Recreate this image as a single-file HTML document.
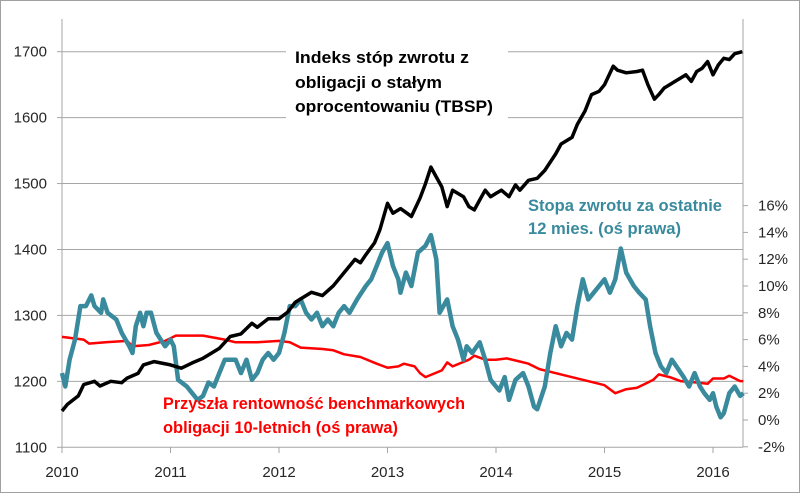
<!DOCTYPE html>
<html><head><meta charset="utf-8"><style>
body{margin:0;background:#fff}
svg{display:block;font-family:"Liberation Sans",sans-serif}
</style></head><body>
<svg id="c" width="800" height="493">
<rect x="0.5" y="0.5" width="799" height="492" fill="#fff" stroke="#a0a0a0"/>
<g id="grid"></g><g id="axes"></g><g id="series"></g>
<rect x="286" y="38" width="222" height="86" fill="#fff"/>
<g font-weight="bold" font-size="16.5" fill="#000">
<text x="295" y="63" textLength="174" lengthAdjust="spacingAndGlyphs">Indeks stóp zwrotu z</text>
<text x="295" y="88" textLength="147" lengthAdjust="spacingAndGlyphs">obligacji o stałym</text>
<text x="295" y="112" textLength="198" lengthAdjust="spacingAndGlyphs">oprocentowaniu (TBSP)</text></g>
<g font-weight="bold" font-size="16.5" fill="#3a8a9e">
<text x="528" y="211" textLength="194" lengthAdjust="spacingAndGlyphs">Stopa zwrotu za ostatnie</text>
<text x="528" y="234" textLength="153" lengthAdjust="spacingAndGlyphs">12 mies. (oś prawa)</text></g>
<g font-weight="bold" font-size="16.5" fill="#ff0000">
<text x="163" y="409" textLength="302" lengthAdjust="spacingAndGlyphs">Przyszła rentowność benchmarkowych</text>
<text x="163" y="433" textLength="235" lengthAdjust="spacingAndGlyphs">obligacji  10-letnich (oś prawa)</text></g>
</svg>
<script>
const leftTicks=[1100,1200,1300,1400,1500,1600,1700];
const rightTicks=[-2,0,2,4,6,8,10,12,14,16];
const yearTicks=[2010,2011,2012,2013,2014,2015,2016];
const tbspT=[2010,2010.05,2010.15,2010.2,2010.3,2010.35,2010.45,2010.55,2010.6,2010.7,2010.75,2010.85,2011,2011.1,2011.2,2011.3,2011.45,2011.55,2011.65,2011.75,2011.8,2011.9,2012,2012.08,2012.15,2012.2,2012.3,2012.4,2012.5,2012.6,2012.7,2012.75,2012.8,2012.88,2012.93,2013,2013.05,2013.12,2013.18,2013.22,2013.3,2013.35,2013.4,2013.45,2013.5,2013.55,2013.6,2013.7,2013.75,2013.8,2013.85,2013.9,2013.95,2014,2014.05,2014.12,2014.18,2014.22,2014.3,2014.38,2014.45,2014.55,2014.6,2014.7,2014.75,2014.82,2014.88,2014.95,2015,2015.08,2015.12,2015.2,2015.3,2015.35,2015.4,2015.46,2015.5,2015.55,2015.6,2015.65,2015.7,2015.75,2015.8,2015.85,2015.9,2015.95,2016,2016.05,2016.1,2016.15,2016.2,2016.27];
const tbspV=[1155,1165,1178,1195,1200,1193,1200,1198,1205,1212,1225,1230,1225,1220,1228,1235,1250,1268,1272,1288,1282,1295,1295,1305,1320,1325,1335,1330,1345,1365,1385,1380,1392,1410,1430,1470,1455,1462,1455,1450,1478,1500,1525,1510,1495,1465,1490,1480,1465,1460,1475,1490,1480,1485,1490,1480,1498,1490,1505,1508,1520,1545,1560,1570,1590,1610,1635,1640,1650,1678,1672,1668,1670,1672,1650,1628,1635,1645,1650,1655,1660,1665,1655,1670,1675,1685,1665,1680,1690,1688,1697,1700];
const retT=[2010,2010.03,2010.07,2010.12,2010.17,2010.22,2010.27,2010.3,2010.36,2010.38,2010.42,2010.5,2010.55,2010.62,2010.65,2010.68,2010.72,2010.75,2010.78,2010.82,2010.87,2010.95,2011,2011.03,2011.07,2011.15,2011.2,2011.25,2011.3,2011.35,2011.4,2011.45,2011.5,2011.6,2011.65,2011.7,2011.75,2011.8,2011.85,2011.9,2011.95,2012,2012.05,2012.1,2012.15,2012.2,2012.25,2012.3,2012.35,2012.4,2012.45,2012.5,2012.55,2012.6,2012.65,2012.72,2012.8,2012.85,2012.9,2012.95,2013,2013.05,2013.1,2013.12,2013.17,2013.22,2013.28,2013.35,2013.4,2013.45,2013.48,2013.55,2013.6,2013.65,2013.7,2013.73,2013.78,2013.85,2013.9,2013.95,2014,2014.03,2014.08,2014.12,2014.18,2014.25,2014.3,2014.35,2014.38,2014.45,2014.5,2014.55,2014.6,2014.65,2014.7,2014.75,2014.8,2014.85,2014.9,2014.95,2015,2015.05,2015.1,2015.15,2015.2,2015.27,2015.32,2015.38,2015.42,2015.47,2015.52,2015.57,2015.62,2015.68,2015.73,2015.78,2015.83,2015.88,2015.92,2015.97,2016,2016.03,2016.07,2016.1,2016.15,2016.2,2016.25,2016.28];
const retV=[3.5,2.5,4.5,6,8.5,8.5,9.3,8.5,8,9,8,7.5,6.5,5.5,5,7,8,7,8,8,6.5,5.5,6,5.5,3,2.5,2,1.5,1.8,2.8,2.5,3.5,4.5,4.5,3.5,4.5,3,3.5,4.5,5,4.5,5,6.5,8.5,8.5,9,8,7.5,8,7,7.5,7,8,8.5,8,9,10,10.5,11.5,12.5,13.2,11.5,10.5,9.5,11,10,12.5,13,13.8,12,8,9,7,6,4.5,5.5,5,5.8,4.5,3,2.5,2.2,3.2,1.5,3,3.5,2.5,1,0.8,2.5,5,7,5.5,6.5,6,8.5,10.5,9,9.5,10,10.5,9.5,10.5,12.8,11,10,9.5,9,7,5,4,3.5,4.5,3.8,3.2,2.5,3.5,2.5,2,1.5,2,1,0.2,0.5,2,2.5,1.8,2];
const yldT=[2010,2010.2,2010.25,2010.4,2010.6,2010.65,2010.8,2010.95,2011.05,2011.3,2011.5,2011.6,2011.8,2012,2012.1,2012.2,2012.4,2012.5,2012.6,2012.75,2012.9,2013,2013.1,2013.15,2013.25,2013.3,2013.35,2013.5,2013.55,2013.6,2013.75,2013.8,2013.9,2014,2014.1,2014.2,2014.3,2014.4,2014.5,2014.65,2014.8,2014.95,2015,2015.05,2015.1,2015.2,2015.3,2015.4,2015.45,2015.5,2015.6,2015.7,2015.85,2015.95,2016,2016.1,2016.15,2016.25,2016.28];
const yldV=[6.2,6,5.7,5.8,5.9,5.5,5.6,5.9,6.3,6.3,6.0,5.8,5.8,5.9,5.8,5.4,5.3,5.2,4.9,4.7,4.2,3.9,4.0,4.2,4.0,3.5,3.2,3.7,4.3,4.0,4.5,4.8,4.5,4.5,4.6,4.4,4.2,3.8,3.6,3.3,3.0,2.7,2.6,2.3,2.0,2.3,2.4,2.8,3.0,3.4,3.2,2.9,2.8,2.7,3.1,3.1,3.3,2.9,2.9];
const X=t=>62+(t-2010)*108.5;
const YL=v=>51.7+(1700-v)*0.6593;
const YR=v=>420-v*13.4;
const NS="http://www.w3.org/2000/svg";
function mk(tag,attrs,parent){const e=document.createElementNS(NS,tag);for(const k in attrs)e.setAttribute(k,attrs[k]);parent.appendChild(e);return e;}
const grid=document.getElementById('grid'),axes=document.getElementById('axes'),ser=document.getElementById('series');
leftTicks.forEach(v=>{
 const y=YL(v);
 if(v>1100){const l=mk('line',{x1:62,x2:743,y1:y,y2:y,stroke:'#a6a6a6','stroke-width':1},grid);
 
 }
 const tk=mk('line',{x1:57,x2:62,y1:y,y2:y,stroke:'#a6a6a6'},axes);
 
 
 const t=mk('text',{x:47,y:y+5,'text-anchor':'end','font-size':15,fill:'#262626'},axes);t.textContent=v;
 
 
});
rightTicks.forEach(v=>{
 const y=YR(v);
 const tk=mk('line',{x1:743,x2:748,y1:y,y2:y,stroke:'#a6a6a6'},axes);
 
 
 const t=mk('text',{x:758,y:y+5,'font-size':15,fill:'#262626'},axes);t.textContent=v+'%';
 
 
});
yearTicks.forEach(v=>{
 const x=X(v);
 const tk=mk('line',{x1:x,x2:x,y1:447.3,y2:453,stroke:'#a6a6a6'},axes);
 
 
 const t=mk('text',{x:x,y:477,'text-anchor':'middle','font-size':15,fill:'#262626'},axes);t.textContent=v;
 
 
});
const xa=mk('line',{x1:62,x2:743,y1:447.3,y2:447.3,stroke:'#a6a6a6'},axes);


const la=mk('line',{x1:62,x2:62,y1:19,y2:447.3,stroke:'#a6a6a6'},axes);


const ra=mk('line',{x1:743,x2:743,y1:19,y2:447.3,stroke:'#a6a6a6'},axes);


function line(T,V,Y,color,w,name){
 const d=T.map((t,i)=>(i?'L':'M')+X(t).toFixed(1)+','+Y(V[i]).toFixed(1)).join('');
 const p=mk('path',{d:d,fill:'none',stroke:color,'stroke-width':w,'stroke-linejoin':'round'},ser);
 
 
}
line(yldT,yldV,YR,'#ff0000',2.5,'yield-line');
line(retT,retV,YR,'#3a8a9e',4.5,'return-line');
line(tbspT,tbspV,YL,'#000000',3.5,'tbsp-line');
</script>
</body></html>
